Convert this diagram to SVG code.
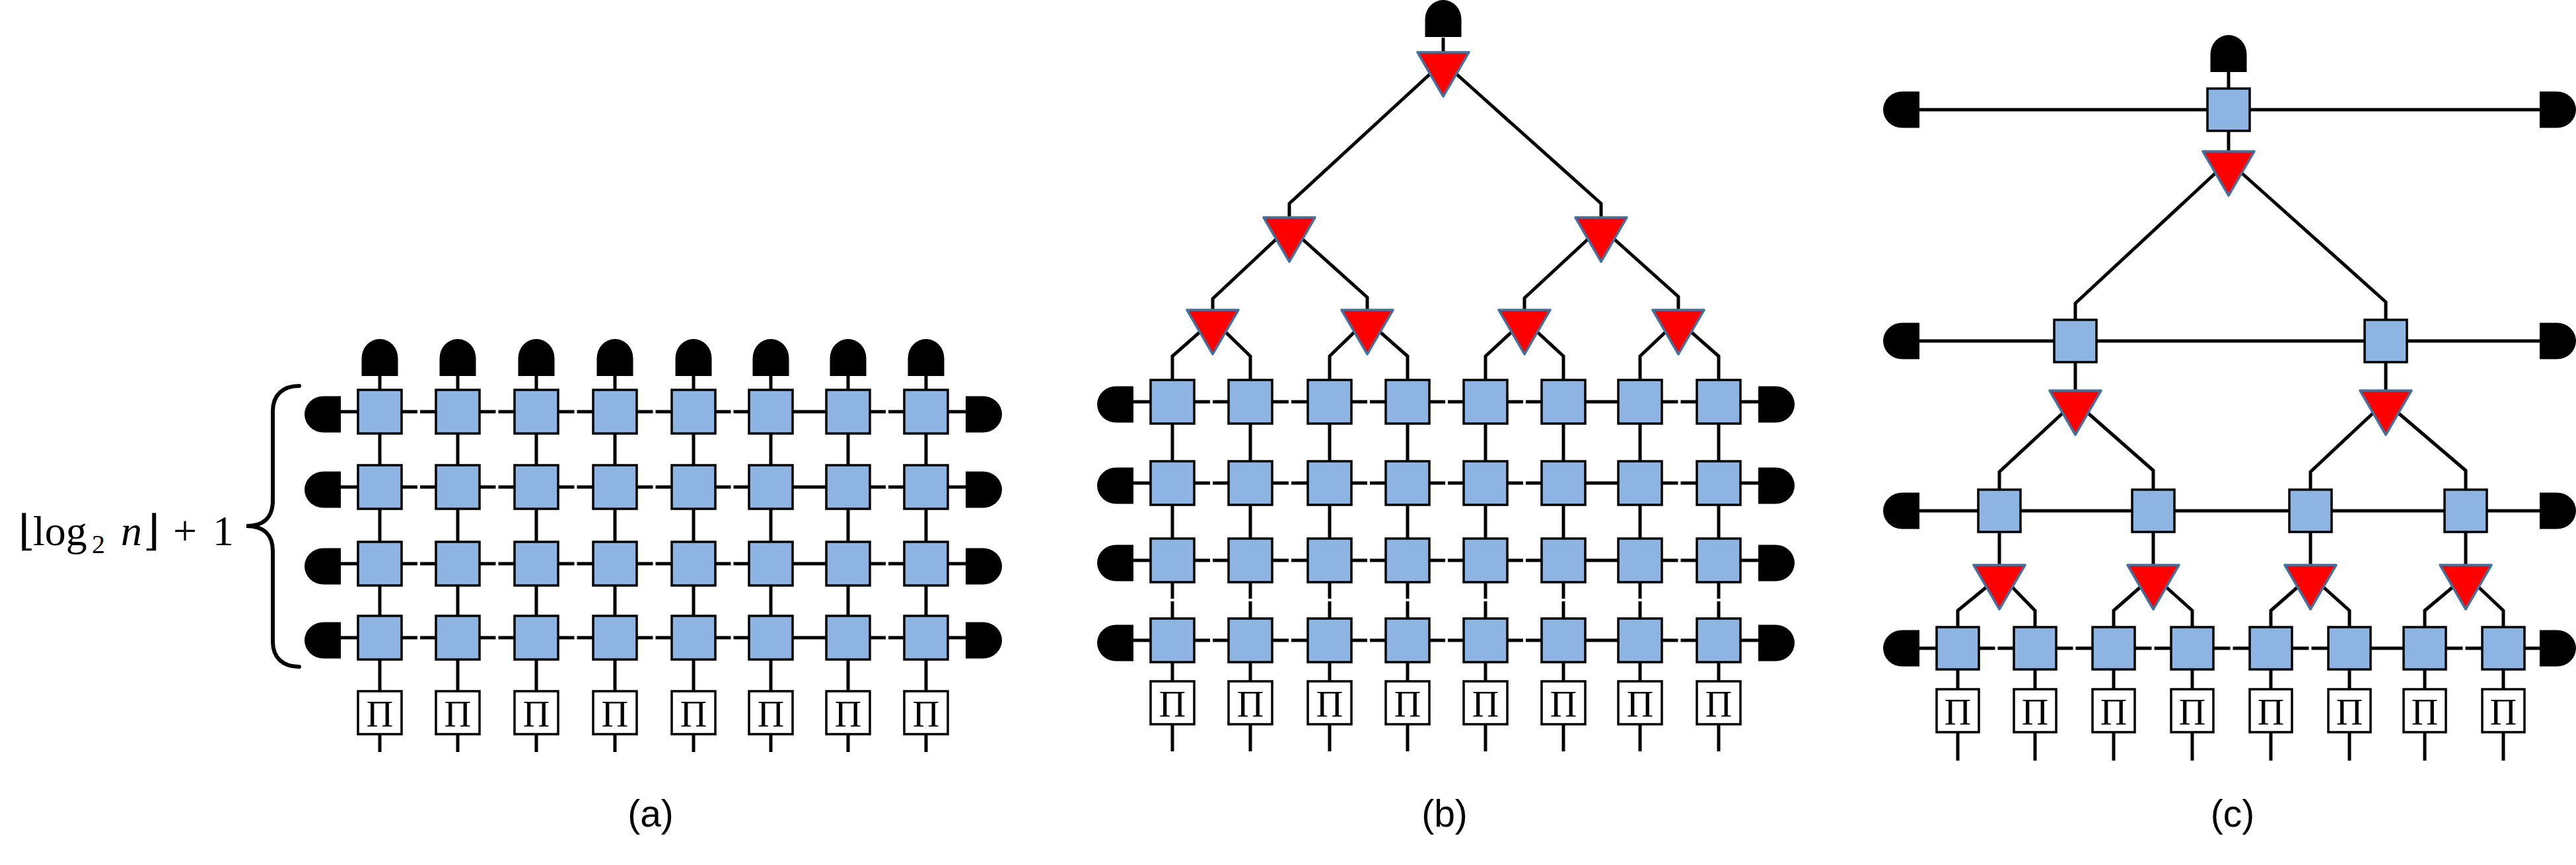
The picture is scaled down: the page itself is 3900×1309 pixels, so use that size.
<svg xmlns="http://www.w3.org/2000/svg" xmlns:xlink="http://www.w3.org/1999/xlink" width="3900" height="1309" viewBox="0 0 3900 1309">
<style>
.ln{stroke:#000;stroke-width:5;fill:none;stroke-linejoin:miter}
.sq{fill:#8EB4E3;stroke:#000;stroke-width:3.5}
.tri{fill:#FF0000;stroke:#41719C;stroke-width:3.5;stroke-linejoin:round}
.hd{fill:#000}
.pib{fill:#fff;stroke:#000;stroke-width:3.5}
.pit{font-family:"Liberation Serif","DejaVu Serif",serif;font-size:56px;text-anchor:middle}
.lbl{font-family:"Liberation Sans",Arial,sans-serif;font-size:57px;text-anchor:middle}
.math{font-family:"Liberation Serif","DejaVu Serif",serif;font-size:64px}
.brace{stroke:#000;stroke-width:6;fill:none;stroke-linecap:round}
</style>
<defs>
<rect id="sqA" class="sq" x="-33" y="-33" width="66" height="66"/>
<rect id="sqC" class="sq" x="-32" y="-32" width="64" height="64"/>
<polygon id="tri" class="tri" points="-39,0 39,0 0,67"/>
<path id="hdL" class="hd" d="M0,-27.5 H-26 A29,27.5 0 0 0 -26,27.5 H0 Z"/>
<path id="hdR" class="hd" d="M0,-27.5 H26 A29,27.5 0 0 1 26,27.5 H0 Z"/>
<path id="hdU" class="hd" d="M-27.5,0 V-27 A27.5,29 0 0 1 27.5,-27 V0 Z"/>
<g id="piA"><rect class="pib" x="-33" y="-32.5" width="66" height="65"/><text class="pit" y="21">Π</text></g>
<g id="piC"><rect class="pib" x="-32" y="-32.5" width="64" height="65"/><text class="pit" y="21">Π</text></g>
<path id="rowA" class="ln" d="M516,0 H632 M636,0 H750.5 M754.5,0 H869.5 M873.5,0 H988.5 M992.5,0 H1106.5 M1110.5,0 H1341 M1345,0 H1462"/>
<path id="rowB" class="ln" d="M1716,0 H1832 M1836,0 H1951 M1955,0 H2070 M2074,0 H2188 M2192,0 H2306 M2310,0 H2540.5 M2544.5,0 H2662"/>
</defs>
<rect width="3900" height="1309" fill="#fff"/>

<g id="connectors">
<!-- (a) -->
<use href="#rowA" y="623"/><use href="#rowA" y="737"/><use href="#rowA" y="853"/><use href="#rowA" y="965"/>
<path class="ln" d="M575,569 V1138 M693,569 V1138 M812,569 V1138 M931,569 V1138 M1050,569 V1138 M1167,569 V1138 M1284,569 V1138 M1402,569 V1138"/>
<!-- (b) -->
<use href="#rowB" y="608"/><use href="#rowB" y="731"/><use href="#rowB" y="848"/><use href="#rowB" y="969"/>
<path class="ln" d="M2185,57 V79"/>
<polyline class="ln" points="2165,112 1952,308 1952,329"/>
<polyline class="ln" points="2205,112 2424,308 2424,329"/>
<polyline class="ln" points="1932,362 1836,452 1836,469"/>
<polyline class="ln" points="1972,362 2070,450 2070,469"/>
<polyline class="ln" points="2404,362 2308,451 2308,469"/>
<polyline class="ln" points="2444,362 2541,449 2541,469"/>
<path class="ln" d="M1816.5,502.5 L1775,539 V906 M1775,910 V1137"/>
<path class="ln" d="M1855.5,502.5 L1893,539 V906 M1893,910 V1137"/>
<path class="ln" d="M2050.5,502.5 L2013,539 V906 M2013,910 V1137"/>
<path class="ln" d="M2089.5,502.5 L2131,539 V906 M2131,910 V1137"/>
<path class="ln" d="M2288.5,502.5 L2249,539 V906 M2249,910 V1137"/>
<path class="ln" d="M2327.5,502.5 L2367,539 V906 M2367,910 V1137"/>
<path class="ln" d="M2521.5,502.5 L2483,539 V906 M2483,910 V1137"/>
<path class="ln" d="M2560.5,502.5 L2602,539 V906 M2602,910 V1137"/>
<!-- (c) -->
<path class="ln" d="M3374,109 V229"/>
<path class="ln" d="M2906,166 H3845"/>
<polyline class="ln" points="3354,262 3142,459 3142,484"/>
<polyline class="ln" points="3394,262 3612,457 3612,484"/>
<path class="ln" d="M2906,516 H3845"/>
<path class="ln" d="M3142,548 V591 M3612,548 V591"/>
<polyline class="ln" points="3123,625 3027,714 3027,741"/>
<polyline class="ln" points="3161,625 3260,712 3260,741"/>
<polyline class="ln" points="3593,625 3498,714 3498,741"/>
<polyline class="ln" points="3631,625 3733,712 3733,741"/>
<path class="ln" d="M2906,773 H3845"/>
<path class="ln" d="M3027,805 V855 M3260,805 V855 M3498,805 V855 M3733,805 V855"/>
<polyline class="ln" points="3008,888 2964,924 2964,1151"/>
<polyline class="ln" points="3046,888 3081,924 3081,1151"/>
<polyline class="ln" points="3241,888 3200,924 3200,1151"/>
<polyline class="ln" points="3279,888 3319,924 3319,1151"/>
<polyline class="ln" points="3479,888 3438,924 3438,1151"/>
<polyline class="ln" points="3517,888 3557,924 3557,1151"/>
<polyline class="ln" points="3714,888 3671,924 3671,1151"/>
<polyline class="ln" points="3752,888 3790,924 3790,1151"/>
<path class="ln" d="M2906,981 H3020.5 M3024.5,981 H3138.5 M3142.5,981 H3257.5 M3261.5,981 H3376.5 M3380.5,981 H3495.5 M3499.5,981 H3728.5 M3732.5,981 H3845"/>
</g>

<!-- ===== (a) nodes ===== -->
<g id="a-size-label">
<text class="math" y="825"><tspan x="28">⌊</tspan><tspan x="50">log</tspan><tspan x="139" y="837" font-size="40">2</tspan><tspan x="183" y="825" font-style="italic">n</tspan><tspan x="217">⌋</tspan><tspan x="262">+</tspan><tspan x="322">1</tspan></text>
<path class="brace" d="M453,584 C428,584 413,598 413,622 V758 C413,782 400,796 373,796 C400,796 413,810 413,834 V971 C413,995 428,1009 453,1009"/>
</g>
<g id="a-meas-top">
<use href="#hdU" x="575" y="569"/><use href="#hdU" x="693" y="569"/><use href="#hdU" x="812" y="569"/><use href="#hdU" x="931" y="569"/>
<use href="#hdU" x="1050" y="569"/><use href="#hdU" x="1167" y="569"/><use href="#hdU" x="1284" y="569"/><use href="#hdU" x="1402" y="569"/>
</g>
<g id="a-meas-left"><use href="#hdL" x="516" y="627"/><use href="#hdL" x="516" y="741"/><use href="#hdL" x="516" y="857"/><use href="#hdL" x="516" y="969"/></g>
<g id="a-meas-right"><use href="#hdR" x="1462" y="627"/><use href="#hdR" x="1462" y="741"/><use href="#hdR" x="1462" y="857"/><use href="#hdR" x="1462" y="969"/></g>
<g id="a-row1"><use href="#sqA" x="575" y="623"/><use href="#sqA" x="693" y="623"/><use href="#sqA" x="812" y="623"/><use href="#sqA" x="931" y="623"/><use href="#sqA" x="1050" y="623"/><use href="#sqA" x="1167" y="623"/><use href="#sqA" x="1284" y="623"/><use href="#sqA" x="1402" y="623"/></g>
<g id="a-row2"><use href="#sqA" x="575" y="737"/><use href="#sqA" x="693" y="737"/><use href="#sqA" x="812" y="737"/><use href="#sqA" x="931" y="737"/><use href="#sqA" x="1050" y="737"/><use href="#sqA" x="1167" y="737"/><use href="#sqA" x="1284" y="737"/><use href="#sqA" x="1402" y="737"/></g>
<g id="a-row3"><use href="#sqA" x="575" y="853"/><use href="#sqA" x="693" y="853"/><use href="#sqA" x="812" y="853"/><use href="#sqA" x="931" y="853"/><use href="#sqA" x="1050" y="853"/><use href="#sqA" x="1167" y="853"/><use href="#sqA" x="1284" y="853"/><use href="#sqA" x="1402" y="853"/></g>
<g id="a-row4"><use href="#sqA" x="575" y="965"/><use href="#sqA" x="693" y="965"/><use href="#sqA" x="812" y="965"/><use href="#sqA" x="931" y="965"/><use href="#sqA" x="1050" y="965"/><use href="#sqA" x="1167" y="965"/><use href="#sqA" x="1284" y="965"/><use href="#sqA" x="1402" y="965"/></g>
<g id="a-proj"><use href="#piA" x="575" y="1078.5"/><use href="#piA" x="693" y="1078.5"/><use href="#piA" x="812" y="1078.5"/><use href="#piA" x="931" y="1078.5"/><use href="#piA" x="1050" y="1078.5"/><use href="#piA" x="1167" y="1078.5"/><use href="#piA" x="1284" y="1078.5"/><use href="#piA" x="1402" y="1078.5"/></g>
<g id="a-caption"><text class="lbl" x="985" y="1251">(a)</text></g>

<!-- ===== (b) nodes ===== -->
<g id="b-meas-top"><use href="#hdU" x="2185" y="56"/></g>
<g id="b-tri-root"><use href="#tri" x="2185" y="79"/></g>
<g id="b-tri-l2"><use href="#tri" x="1952" y="329"/><use href="#tri" x="2424" y="329"/></g>
<g id="b-tri-l3"><use href="#tri" x="1836" y="469"/><use href="#tri" x="2070" y="469"/><use href="#tri" x="2308" y="469"/><use href="#tri" x="2541" y="469"/></g>
<g id="b-meas-left"><use href="#hdL" x="1716" y="612"/><use href="#hdL" x="1716" y="735"/><use href="#hdL" x="1716" y="852"/><use href="#hdL" x="1716" y="973"/></g>
<g id="b-meas-right"><use href="#hdR" x="2662" y="612"/><use href="#hdR" x="2662" y="735"/><use href="#hdR" x="2662" y="852"/><use href="#hdR" x="2662" y="973"/></g>
<g id="b-row1"><use href="#sqA" x="1775" y="608"/><use href="#sqA" x="1893" y="608"/><use href="#sqA" x="2013" y="608"/><use href="#sqA" x="2131" y="608"/><use href="#sqA" x="2249" y="608"/><use href="#sqA" x="2367" y="608"/><use href="#sqA" x="2483" y="608"/><use href="#sqA" x="2602" y="608"/></g>
<g id="b-row2"><use href="#sqA" x="1775" y="731"/><use href="#sqA" x="1893" y="731"/><use href="#sqA" x="2013" y="731"/><use href="#sqA" x="2131" y="731"/><use href="#sqA" x="2249" y="731"/><use href="#sqA" x="2367" y="731"/><use href="#sqA" x="2483" y="731"/><use href="#sqA" x="2602" y="731"/></g>
<g id="b-row3"><use href="#sqA" x="1775" y="848"/><use href="#sqA" x="1893" y="848"/><use href="#sqA" x="2013" y="848"/><use href="#sqA" x="2131" y="848"/><use href="#sqA" x="2249" y="848"/><use href="#sqA" x="2367" y="848"/><use href="#sqA" x="2483" y="848"/><use href="#sqA" x="2602" y="848"/></g>
<g id="b-row4"><use href="#sqA" x="1775" y="969"/><use href="#sqA" x="1893" y="969"/><use href="#sqA" x="2013" y="969"/><use href="#sqA" x="2131" y="969"/><use href="#sqA" x="2249" y="969"/><use href="#sqA" x="2367" y="969"/><use href="#sqA" x="2483" y="969"/><use href="#sqA" x="2602" y="969"/></g>
<g id="b-proj"><use href="#piA" x="1775" y="1063.5"/><use href="#piA" x="1893" y="1063.5"/><use href="#piA" x="2013" y="1063.5"/><use href="#piA" x="2131" y="1063.5"/><use href="#piA" x="2249" y="1063.5"/><use href="#piA" x="2367" y="1063.5"/><use href="#piA" x="2483" y="1063.5"/><use href="#piA" x="2602" y="1063.5"/></g>
<g id="b-caption"><text class="lbl" x="2187" y="1251">(b)</text></g>

<!-- ===== (c) nodes ===== -->
<g id="c-meas-top"><use href="#hdU" x="3374" y="109"/></g>
<g id="c-meas-left"><use href="#hdL" x="2906" y="166"/><use href="#hdL" x="2906" y="516"/><use href="#hdL" x="2906" y="773"/><use href="#hdL" x="2906" y="981"/></g>
<g id="c-meas-right"><use href="#hdR" x="3845" y="166"/><use href="#hdR" x="3845" y="516"/><use href="#hdR" x="3845" y="773"/><use href="#hdR" x="3845" y="981"/></g>
<g id="c-row1"><use href="#sqC" x="3374" y="166"/></g>
<g id="c-tri-root"><use href="#tri" x="3374" y="229"/></g>
<g id="c-row2"><use href="#sqC" x="3142" y="516"/><use href="#sqC" x="3612" y="516"/></g>
<g id="c-tri-l2"><use href="#tri" x="3142" y="591"/><use href="#tri" x="3612" y="591"/></g>
<g id="c-row3"><use href="#sqC" x="3027" y="773"/><use href="#sqC" x="3260" y="773"/><use href="#sqC" x="3498" y="773"/><use href="#sqC" x="3733" y="773"/></g>
<g id="c-tri-l3"><use href="#tri" x="3027" y="855"/><use href="#tri" x="3260" y="855"/><use href="#tri" x="3498" y="855"/><use href="#tri" x="3733" y="855"/></g>
<g id="c-row4"><use href="#sqC" x="2964" y="981"/><use href="#sqC" x="3081" y="981"/><use href="#sqC" x="3200" y="981"/><use href="#sqC" x="3319" y="981"/><use href="#sqC" x="3438" y="981"/><use href="#sqC" x="3557" y="981"/><use href="#sqC" x="3671" y="981"/><use href="#sqC" x="3790" y="981"/></g>
<g id="c-proj"><use href="#piC" x="2964" y="1075.5"/><use href="#piC" x="3081" y="1075.5"/><use href="#piC" x="3200" y="1075.5"/><use href="#piC" x="3319" y="1075.5"/><use href="#piC" x="3438" y="1075.5"/><use href="#piC" x="3557" y="1075.5"/><use href="#piC" x="3671" y="1075.5"/><use href="#piC" x="3790" y="1075.5"/></g>
<g id="c-caption"><text class="lbl" x="3380" y="1251">(c)</text></g>
</svg>
